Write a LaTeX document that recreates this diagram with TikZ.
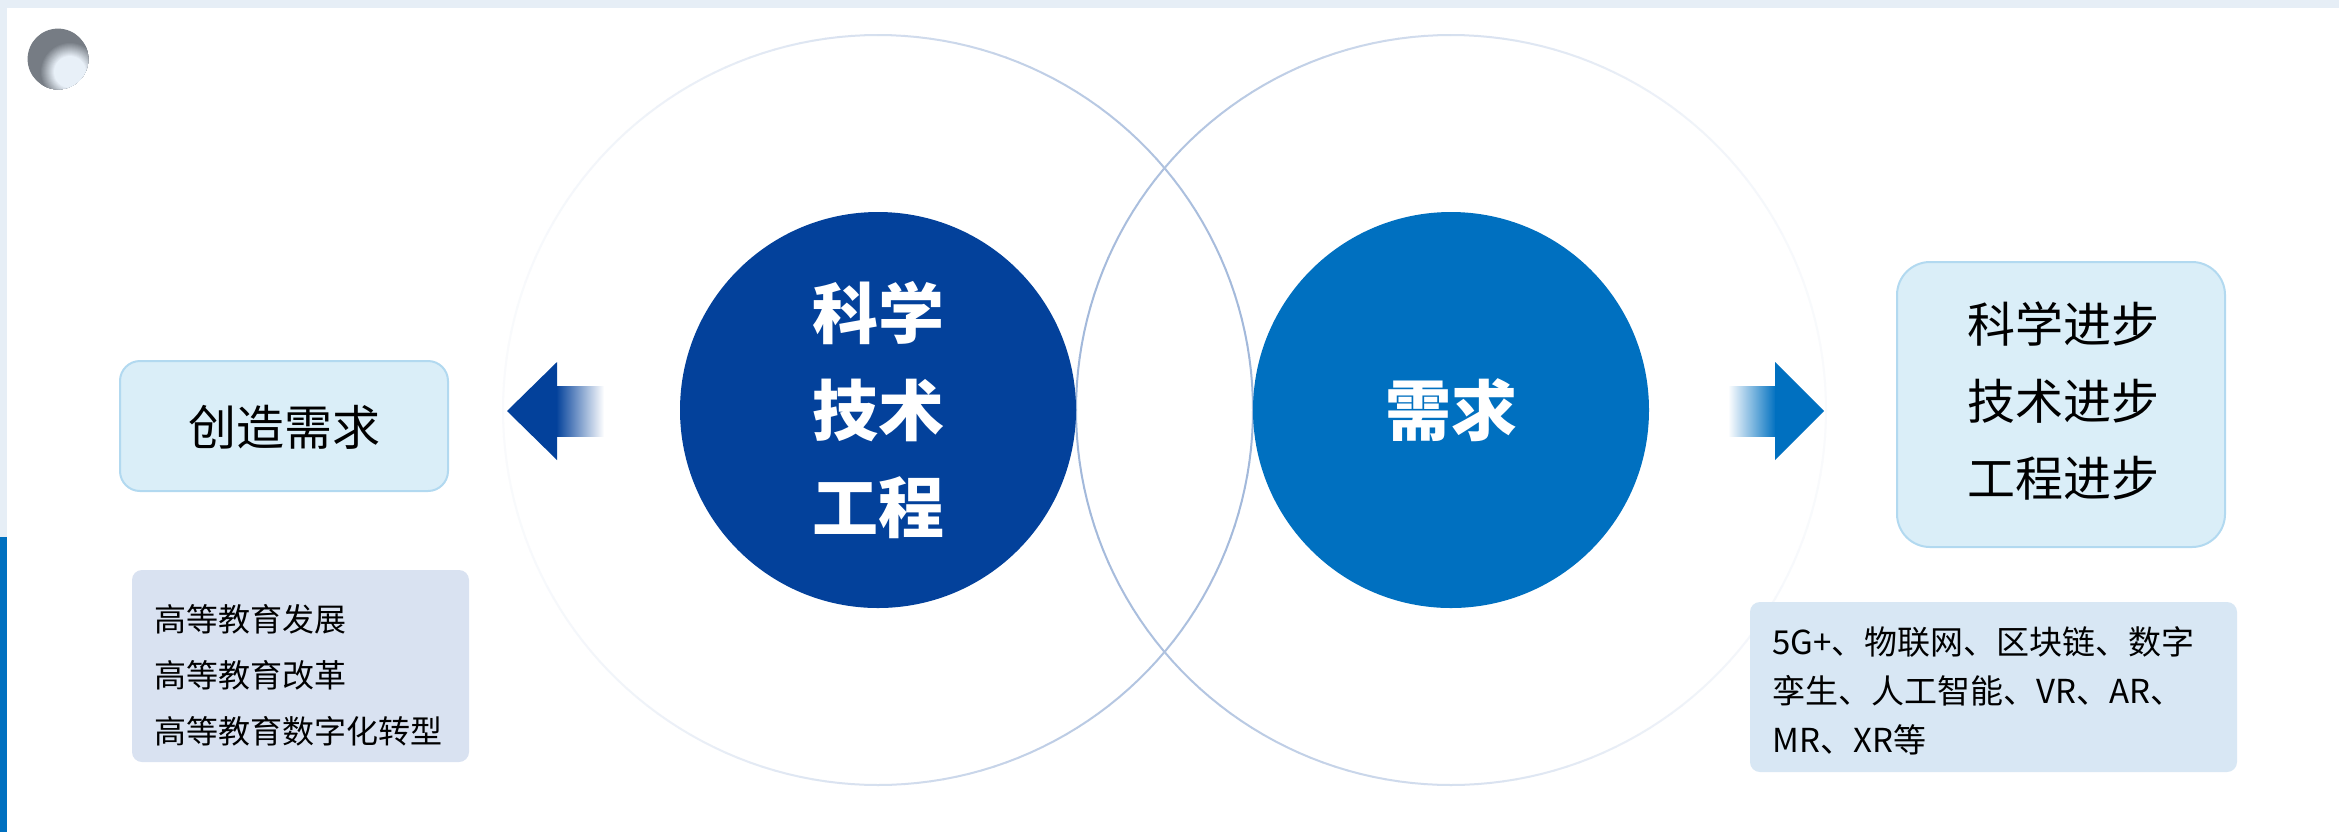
\documentclass[tikz,border=0pt]{standalone}
\usepackage{fontspec}
\newfontfamily\cjk{Noto Sans CJK SC}
\definecolor{bandlight}{HTML}{E6EEF6}
\definecolor{bandblue}{HTML}{0070C0}
\definecolor{navy}{HTML}{03419B}
\definecolor{midblue}{HTML}{0070C0}
\definecolor{ringcol}{HTML}{97B0D6}
\definecolor{boxfill}{HTML}{DAEEF8}
\definecolor{boxline}{HTML}{B2D9F0}
\definecolor{notefillL}{HTML}{D9E2F1}
\definecolor{notefillR}{HTML}{D8E7F4}
\definecolor{sphdark}{HTML}{767C84}
\definecolor{sphlight}{HTML}{E8F0F8}
\tikzset{
  bigdisc/.style={circle, inner sep=0pt, minimum size=198pt},
  disctext/.style={text=white, font=\cjk\bfseries\fontsize{33pt}{48.5pt}\selectfont, align=center, inner sep=0pt},
  stepbox/.style={draw=boxline, line width=1pt, fill=boxfill, inner sep=0pt},
  boxtext/.style={font=\cjk\fontsize{24pt}{38.5pt}\selectfont, align=center, inner sep=0pt},
  notebox/.style={rounded corners=5pt, inner sep=0pt},
  notetext/.style={font=\cjk\fontsize{16pt}{28pt}\selectfont, align=left, inner sep=0pt, anchor=west},
}
\begin{document}
\begin{tikzpicture}[x=0.5pt,y=-0.5pt]
\useasboundingbox (0,0) rectangle (2339,832);
\fill[white] (0,0) rectangle (2339,832);
\fill[bandlight] (0,0) rectangle (2339,8);
\fill[bandlight] (0,0) rectangle (7,537);
\fill[bandblue] (0,537) rectangle (7,832);
% small sphere
\begin{scope}
  \clip (58,59) circle [radius=15.2pt];
  \fill[sphdark] (58,59) circle [radius=16pt];
  \foreach \r in {31,30,...,1}{
    \pgfmathsetmacro\t{max(0,min(100,(30-\r)/14*100))}
    \fill[sphlight!\t!sphdark] (70,72) circle [radius=\r*0.5pt];
  }
\end{scope}
% rings
\foreach \a in {0,2,...,358}{
  \pgfmathsetmacro\p{6+84*((1+cos(\a+1))/2)^1.3}
  \pgfmathsetmacro\q{6+84*((1-cos(\a+1))/2)^1.3}
  \draw[ringcol!\p!white, line width=1pt, line cap=round] ({878+375*cos(\a)},{410+375*sin(\a)}) -- ({878+375*cos(\a+2)},{410+375*sin(\a+2)});
  \draw[ringcol!\q!white, line width=1pt, line cap=round] ({1451+375*cos(\a)},{410+375*sin(\a)}) -- ({1451+375*cos(\a+2)},{410+375*sin(\a+2)});
}
% discs
\node[bigdisc, fill=navy] (sci) at (878,410) {};
\node[disctext] (scitxt) at (sci.center) {科学\\技术\\工程};
\node[bigdisc, fill=midblue] (need) at (1451,410) {};
\node[disctext] (needtxt) at (need.center) {需求};
% arrows
\shade[left color=navy, right color=white] (556,386) rectangle (604,436);
\fill[navy] (507,411) -- (557,362) -- (557,460) -- cycle;
\shade[left color=white, right color=midblue] (1728,386) rectangle (1776,436);
\fill[midblue] (1824,411) -- (1775,362) -- (1775,460) -- cycle;
% boxes
\node[stepbox, rounded corners=10pt, minimum width=164pt, minimum height=65pt] (create) at (284,426) {};
\node[boxtext] (createtxt) at (284,427) {创造需求};
\node[stepbox, rounded corners=16.5pt, minimum width=164pt, minimum height=142.5pt] (prog) at (2061,404.5) {};
\node[boxtext] (progtxt) at (2063,401) {科学进步\\技术进步\\工程进步};
% notes
\node[notebox, fill=notefillL, minimum width=168.5pt, minimum height=96pt] (noteL) at (300.5,666) {};
\node[notetext] (noteLtxt) at (154,675) {高等教育发展\\高等教育改革\\高等教育数字化转型};
\node[notebox, fill=notefillR, minimum width=243.5pt, minimum height=85pt] (noteR) at (1993.5,687) {};
\node[notetext, font=\cjk\fontsize{16.5pt}{24.5pt}\selectfont] (noteRtxt) at (1772,691) {5G+、物联网、区块链、数字\\孪生、人工智能、VR、AR、\\MR、XR等};
\end{tikzpicture}
\end{document}
